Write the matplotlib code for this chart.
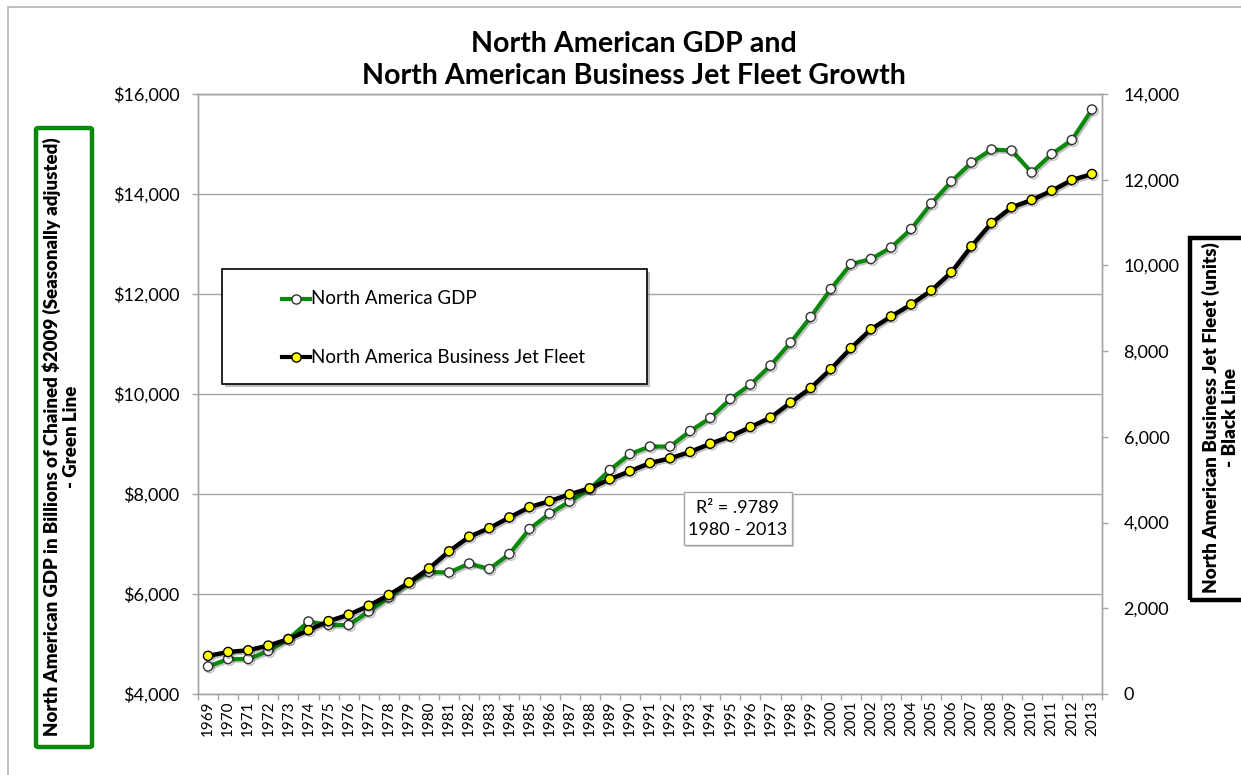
import numpy as np
import matplotlib
matplotlib.use("Agg")
import matplotlib.pyplot as plt
from matplotlib.patches import Rectangle, FancyBboxPatch
from matplotlib.lines import Line2D
from matplotlib.ticker import FuncFormatter
import matplotlib.patheffects as pe

plt.rcParams['font.family'] = ['Lato', 'DejaVu Sans']

# ---------- data ----------
years = list(range(1969, 2014))
gdp = [4550, 4700, 4700, 4860, 5100, 5450, 5380, 5380, 5650, 5930,
       6230, 6440, 6430, 6610, 6500, 6800, 7300, 7610, 7850, 8100,
       8480, 8800, 8950, 8950, 9260, 9520, 9900, 10190, 10570, 11030,
       11540, 12100, 12600, 12700, 12930, 13300, 13810, 14250, 14630, 14890,
       14870, 14430, 14800, 15080, 15690]
fleet = [890, 980, 1020, 1130, 1280, 1490, 1700, 1850, 2060, 2310,
         2600, 2930, 3330, 3670, 3870, 4120, 4360, 4500, 4660, 4800,
         5010, 5200, 5390, 5500, 5650, 5840, 6010, 6230, 6450, 6800,
         7140, 7580, 8070, 8510, 8810, 9090, 9415, 9840, 10445, 10990,
         11356, 11527, 11744, 11993, 12133]

gdp_label = "North America GDP"
fleet_label = "North America Business Jet Fleet"
title = "North American GDP and\nNorth American Business Jet Fleet Growth"
left_label = "North American GDP in Billions of Chained $2009 (Seasonally adjusted)\n- Green Line"
right_label = "North American Business Jet Fleet (units)\n- Black Line"
note = "R\u00b2 = .9789\n1980 - 2013"

GREEN = "#0a8a0a"
GRID = "#a6a6a6"
W, H = 1241, 775

def px(x, y):
    # pixel position (from top-left) -> figure fraction
    return x / W, 1 - y / H

fig = plt.figure(figsize=(W / 100, H / 100), dpi=100)
ax = fig.add_axes([198 / W, 81 / H, 904 / W, 600 / H])
ax2 = ax.twinx()

x = np.arange(len(years))
shadow = [pe.SimpleLineShadow(offset=(1.2, -1.2), alpha=0.25), pe.Normal()]
ax.plot(x, gdp, color=GREEN, lw=3, marker='o', ms=6.6, mfc='white',
        mec='#333333', mew=1, path_effects=shadow, zorder=3)
ax2.plot(x, fleet, color='black', lw=3.2, marker='o', ms=6.6, mfc='#ffff00',
         mec='black', mew=1, path_effects=shadow, zorder=3)

# axes / ticks
ax.set_xlim(-0.5, len(years) - 0.5)
ax.set_ylim(4000, 16000)
ax2.set_ylim(0, 14000)
ax.set_yticks(np.arange(4000, 16001, 2000))
ax2.set_yticks(np.arange(0, 14001, 2000))
ax.yaxis.set_major_formatter(FuncFormatter(lambda v, p: f"${v:,.0f}"))
ax2.yaxis.set_major_formatter(FuncFormatter(lambda v, p: f"{v:,.0f}"))
ax.set_xticks(np.arange(-0.5, len(years)), [''] * (len(years) + 1))
ax.set_xticks(x, [str(y) for y in years], minor=True)
ax.tick_params(axis='x', which='major', length=4.5, width=1, color=GRID)
ax.tick_params(axis='x', which='minor', length=0, pad=5, labelsize=11, rotation=90)
ax.tick_params(axis='y', length=4.5, width=1, color=GRID, pad=9, labelsize=13)
ax2.tick_params(axis='y', length=4.5, width=1, color=GRID, pad=11, labelsize=13)

ax.yaxis.grid(True, color=GRID, lw=1)
ax.set_axisbelow(True)
for a in (ax, ax2):
    for s in a.spines.values():
        s.set_color(GRID)
        s.set_linewidth(1)

# title
fig.text(*px(634, 60), title, ha='center', va='center', fontsize=20.6,
         fontweight='bold', linespacing=1.3)

# outer chart frame
fig.add_artist(Rectangle(px(8, 800), (W + 20) / W, 793 / H, transform=fig.transFigure,
                         fill=False, ec='#b4b4b4', lw=1.2, zorder=0))

# boxed axis labels
fig.add_artist(FancyBboxPatch(px(36, 747), 56 / W, 619 / H, transform=fig.transFigure,
                              boxstyle="round,pad=0,rounding_size=0.002",
                              fill=False, ec=GREEN, lw=3.2, zorder=2))
fig.text(*px(61, 437), left_label, rotation=90, ha='center', va='center',
         fontsize=13.4, fontweight='heavy', linespacing=1.15, multialignment='center')
fig.add_artist(Rectangle(px(1190, 600), 60 / W, 362 / H, transform=fig.transFigure,
                         fill=False, ec='black', lw=3.2, zorder=2))
fig.text(*px(1220, 418), right_label, rotation=90, ha='center', va='center',
         fontsize=13.6, fontweight='heavy', linespacing=1.15, multialignment='center')

# legend box
lx0, ly0, lx1, ly1 = 222, 269, 647, 384
fig.add_artist(Rectangle(px(lx0 + 3, ly1 + 3), (lx1 - lx0) / W, (ly1 - ly0) / H,
                         transform=fig.transFigure, fc='#8c8c8c', ec='none',
                         alpha=0.55, zorder=5))
fig.add_artist(Rectangle(px(lx0, ly1), (lx1 - lx0) / W, (ly1 - ly0) / H,
                         transform=fig.transFigure, fc='white', ec='black',
                         lw=1.2, zorder=6))
for yy, col, face, mec, lab in [(299, GREEN, 'white', '#333333', gdp_label),
                                (357, 'black', '#ffff00', 'black', fleet_label)]:
    xs = [px(282, yy)[0], px(296, yy)[0], px(310, yy)[0]]
    ys = [px(282, yy)[1]] * 3
    fig.add_artist(Line2D(xs, ys, transform=fig.transFigure, color=col, lw=3,
                          marker='o', markevery=[1], ms=6.6, mfc=face, mec=mec,
                          mew=1, zorder=7))
    fig.text(*px(311, yy), lab, ha='left', va='center', fontsize=13.5, zorder=7)

# R^2 note
fig.add_artist(Rectangle(px(686, 547), 108 / W, 53 / H, transform=fig.transFigure,
                         fc='#cfcfcf', ec='none', zorder=5))
fig.add_artist(Rectangle(px(684, 545), 108 / W, 53 / H, transform=fig.transFigure,
                         fc='white', ec='#a6a6a6', lw=1, zorder=6))
fig.text(*px(738, 519), note, ha='center', va='center', fontsize=13,
         linespacing=1.4, zorder=7)

fig.savefig("out.png", dpi=100)
